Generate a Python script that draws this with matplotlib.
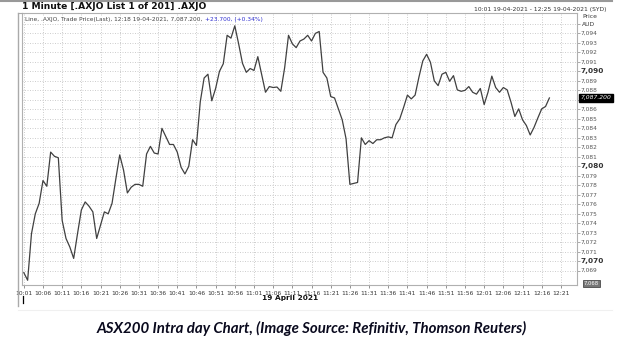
import matplotlib
matplotlib.use("Agg")
import matplotlib.pyplot as plt
import matplotlib.dates as mdates
import pandas as pd

# one-minute closes of .AXJO, 10:01 to 12:18 on 19-04-2021
prices = [
    7068.8, 7068.0, 7072.9, 7075.0, 7076.1, 7078.5, 7077.9, 7081.5, 7081.05, 7080.9,
    7074.3, 7072.4, 7071.5, 7070.3, 7072.9, 7075.4, 7076.25, 7075.8, 7075.2, 7072.4,
    7073.8, 7075.2, 7075.0, 7076.1, 7078.7, 7081.2, 7079.6, 7077.2, 7077.8, 7078.1,
    7078.1, 7077.9, 7081.3, 7082.1, 7081.4, 7081.3, 7084.0, 7083.15, 7082.3, 7082.3,
    7081.5, 7079.9, 7079.2, 7080.0, 7082.8, 7082.2, 7086.8, 7089.3, 7089.7, 7086.9,
    7088.2, 7090.0, 7090.8, 7093.8, 7093.5, 7094.8, 7092.9, 7090.85, 7089.9, 7090.3,
    7090.1, 7091.55, 7089.7, 7087.8, 7088.4, 7088.3, 7088.35, 7087.9, 7090.4, 7093.8,
    7092.9, 7092.5, 7093.2, 7093.4, 7093.8, 7093.2, 7094.0, 7094.2, 7089.9, 7089.3,
    7087.35, 7087.2, 7086.05, 7084.9, 7082.9, 7078.1, 7078.2, 7078.3, 7083.0, 7082.3,
    7082.7, 7082.4, 7082.8, 7082.8, 7083.0, 7083.1, 7083.0, 7084.4, 7085.0, 7086.2,
    7087.5, 7087.1, 7087.5, 7089.4, 7091.1, 7091.8, 7090.95, 7089.0, 7088.5, 7089.7,
    7089.9, 7088.96, 7089.55, 7088.05, 7087.9, 7088.0, 7088.4, 7087.8, 7087.6, 7088.2,
    7086.5, 7087.8, 7089.5, 7088.3, 7087.8, 7088.3, 7088.05, 7086.75, 7085.25, 7086.05,
    7084.9, 7084.3, 7083.3, 7084.1, 7085.1, 7086.05, 7086.3, 7087.2,
]
times = pd.date_range("2021-04-19 10:01", periods=len(prices), freq="min")

last_price = 7087.2
last_label = "7,087.200"
low_label = "7,068"
major_levels = [7070, 7080, 7090]

title = "1 Minute [.AXJO List 1 of 201] .AXJO"
range_text = "10:01 19-04-2021 - 12:25 19-04-2021 (SYD)"
legend_main = "Line, .AXJO, Trade Price(Last), 12:18 19-04-2021, 7,087.200, "
legend_change = "+23.700, (+0.34%)"
date_label = "19 April 2021"
caption = "ASX200 Intra day Chart, (Image Source: Refinitiv, Thomson Reuters)"

W, H = 624, 353


def fx(x):
    return x / W


def fy(y):
    return 1 - y / H


fig = plt.figure(figsize=(W / 100, H / 100), dpi=100)
ax = fig.add_axes([fx(21.5), fy(285), fx(577) - fx(21.5), fy(12.5) - fy(285)])

ax.plot(times, prices, color="#404040", lw=0.9)

ax.set_xlim(pd.Timestamp("2021-04-19 10:00:24"), pd.Timestamp("2021-04-19 12:25:12"))
ax.set_ylim(7067.5, 7096.2)

ax.xaxis.set_major_locator(mdates.MinuteLocator(byminute=range(1, 60, 5)))
ax.xaxis.set_major_formatter(mdates.DateFormatter("%H:%M"))
ax.set_yticks(range(7069, 7096))
ax.set_yticklabels([])
ax.yaxis.tick_right()

ax.grid(True, color="#c6c6c6", lw=0.6, ls=(0, (1.2, 1.8)))
ax.tick_params(axis="x", labelsize=4.3, colors="#666666", length=2, width=0.5, pad=2, labelcolor="#333333")
ax.tick_params(axis="y", length=2.5, width=0.5, colors="#888888", pad=1)
for s in ax.spines.values():
    s.set_color("#b0b0b0")
    s.set_linewidth(0.8)

# right-hand price labels (7,087 sits under the last-price tag)
for lvl in range(7069, 7095):
    if lvl == round(last_price):
        continue
    if lvl in major_levels:
        ax.text(1.006, lvl, f"{lvl:,}", transform=ax.get_yaxis_transform(),
                fontsize=5.3, fontweight="bold", color="#333333", va="center", ha="left")
    else:
        ax.text(1.006, lvl, f"{lvl:,}", transform=ax.get_yaxis_transform(),
                fontsize=4.2, color="#555555", va="center", ha="left")

ax.text(1.006, last_price, last_label, transform=ax.get_yaxis_transform(),
        fontsize=4.3, color="white", style="italic", va="center", ha="left",
        bbox=dict(boxstyle="square,pad=0.25", fc="black", ec="black"))
ax.text(1.012, 7067.7, low_label, transform=ax.get_yaxis_transform(),
        fontsize=3.8, color="white", va="center", ha="left",
        bbox=dict(boxstyle="square,pad=0.2", fc="#777777", ec="#333333", lw=0.5))

# legend line inside the chart
t = ax.text(0.007, 0.985, legend_main, transform=ax.transAxes, fontsize=4.2,
            color="#444444", va="top", ha="left",
            bbox=dict(fc="white", ec="none", pad=0.5))
ax.annotate(legend_change, xy=(1, 0.5), xycoords=t, fontsize=4.2, color="#3030d0",
            va="center", ha="left")

# window frame and headers
fig.add_artist(plt.Line2D([0, fx(612)], [fy(0.8), fy(0.8)], color="#999999", lw=1.5))
fig.add_artist(plt.Line2D([fx(17.5), fx(17.5)], [fy(12.5), fy(306)], color="#aaaaaa", lw=1.0))
fig.add_artist(plt.Line2D([fx(17.5), fx(21.5)], [fy(12.5), fy(12.5)], color="#aaaaaa", lw=0.8))
fig.add_artist(plt.Line2D([fx(17.5), fx(612)], [fy(310), fy(310)], color="#f0f0f0", lw=0.8))
fig.add_artist(plt.Line2D([fx(23), fx(23)], [fy(296), fy(303)], color="black", lw=0.9))

fig.text(fx(22), fy(6.5), title, fontsize=6.6, fontweight="bold", color="#111111",
         va="center", ha="left")
fig.text(fx(606), fy(9), range_text, fontsize=4.3, color="#333333", va="center", ha="right")
fig.text(fx(582), fy(16), "Price", fontsize=4.3, color="#333333", va="center", ha="left")
fig.text(fx(582), fy(24.5), "AUD", fontsize=4.3, color="#333333", va="center", ha="left")
fig.text(fx(318), fy(298), date_label, fontsize=5.3, fontweight="bold", color="#111111",
         va="center", ha="right")

fig.text(fx(312), fy(328), caption, fontsize=10.8, fontweight="bold", style="italic",
         family="Lato", color="#0a0a1e", va="center", ha="center")

fig.savefig("out.png", dpi=100)
